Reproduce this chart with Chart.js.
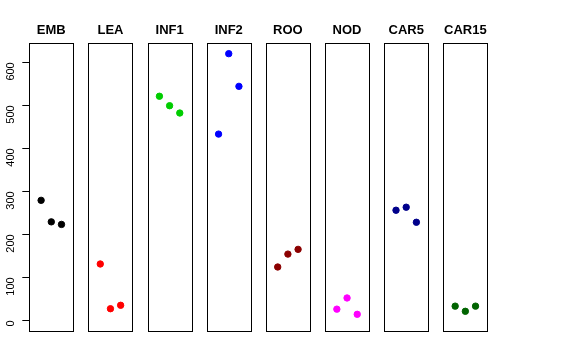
<!DOCTYPE html>
<html>
<head>
<meta charset="utf-8">
<script src="https://cdn.jsdelivr.net/npm/chart.js@4.4.0/dist/chart.umd.min.js"></script>
<style>
    body { margin: 0; background: #fff; }
    #wrap { position: relative; width: 576px; height: 360px; }
    #wrap canvas { position: absolute; left: 0; top: 0; }
</style>
</head>
<body>
<div id="wrap"></div>
<script>
// dados
var painelNomes = ["EMB", "LEA", "INF1", "INF2", "ROO", "NOD", "CAR5", "CAR15"];
var painelCores = ["#000000", "#FF0000", "#00CD00", "#0000FF", "#8B0000", "#FF00FF", "#00008B", "#006400"];
var repX = [1, 2, 3];
var valEMB = [279, 229, 223];
var valLEA = [131, 27, 35];
var valINF1 = [521, 499, 482];
var valINF2 = [433, 620, 544];
var valROO = [124, 154, 165];
var valNOD = [26, 52, 14];
var valCAR5 = [256, 263, 228];
var valCAR15 = [33, 21, 33];
var yTicks = [0, 100, 200, 300, 400, 500, 600];

var valores = [valEMB, valLEA, valINF1, valINF2, valROO, valNOD, valCAR5, valCAR15];

// limites como no R (0 ate o maximo, mais 4%)
var maxY = Math.max.apply(null, [].concat.apply([], valores));
var yMin = -0.04 * maxY;
var yMax = maxY * 1.04;

// caixa e titulo de cada painel
var painelPlugin = {
    id: "painel",
    afterDraw: function (chart, args, opts) {
        var a = chart.chartArea;
        var ctx = chart.ctx;
        ctx.save();
        ctx.strokeStyle = "#000";
        ctx.lineWidth = 1;
        ctx.strokeRect(Math.round(a.left) + 0.5, Math.round(a.top) + 0.5,
            Math.round(a.right - a.left), Math.round(a.bottom - a.top));
        ctx.fillStyle = "#000";
        ctx.font = "bold 13px 'Liberation Sans', Arial, sans-serif";
        ctx.textAlign = "center";
        ctx.textBaseline = "alphabetic";
        ctx.fillText(opts.texto, (a.left + a.right) / 2, 34);
        ctx.restore();
    }
};

var wrap = document.getElementById("wrap");
var largura = 44;
var passo = 59.15;

for (var i = 0; i < painelNomes.length; i++) {
    var cv = document.createElement("canvas");
    cv.width = 576;
    cv.height = 360;
    wrap.appendChild(cv);

    var esquerda = 29.3 + passo * i;
    var pontos = repX.map(function (x, k) {
        return { x: x, y: valores[i][k] };
    });

    var eixoY = {
        display: false,
        min: yMin,
        max: yMax
    };
    if (i === 0) {
        // so o primeiro painel tem eixo y
        eixoY = {
            display: true,
            min: yMin,
            max: yMax,
            afterBuildTicks: function (scale) {
                scale.ticks = yTicks.map(function (v) { return { value: v }; });
            },
            afterFit: function (scale) {
                scale.width = 29.3;
            },
            border: { display: false },
            grid: {
                drawOnChartArea: false,
                tickLength: 7,
                color: "#000"
            },
            ticks: {
                minRotation: 90,
                maxRotation: 90,
                padding: 11,
                color: "#000",
                font: { family: "'Liberation Sans', Arial, sans-serif", size: 11 }
            }
        };
    }

    new Chart(cv, {
        type: "scatter",
        data: {
            datasets: [{
                data: pontos,
                backgroundColor: painelCores[i],
                borderColor: painelCores[i],
                pointRadius: 3.2,
                pointHoverRadius: 3.2
            }]
        },
        options: {
            responsive: false,
            animation: false,
            events: [],
            layout: {
                padding: {
                    left: i === 0 ? 0 : esquerda,
                    right: 576 - esquerda - largura,
                    top: 43,
                    bottom: 29
                }
            },
            plugins: {
                legend: { display: false },
                tooltip: { enabled: false },
                painel: { texto: painelNomes[i] }
            },
            scales: {
                x: {
                    display: false,
                    min: -0.16,
                    max: 4.16
                },
                y: eixoY
            }
        },
        plugins: [painelPlugin]
    });
}
</script>
</body>
</html>
